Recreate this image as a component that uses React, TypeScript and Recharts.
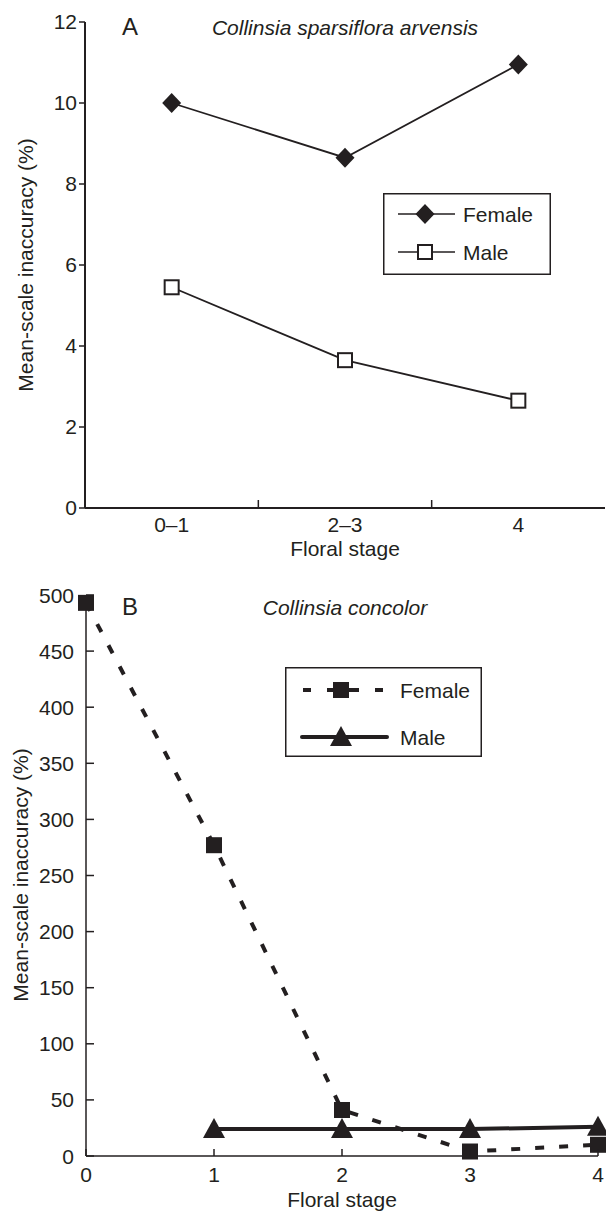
import { Legend, Line, LineChart, XAxis, YAxis } from "recharts"

const ink = "#231f20"
const fs = 21

// panel A - Collinsia sparsiflora arvensis
const stagesA = ["0–1", "2–3", "4"]
const femaleA = [10, 8.65, 10.95]
const maleA = [5.45, 3.65, 2.65]
const yTicksA = [0, 2, 4, 6, 8, 10, 12]

// panel B - Collinsia concolor
const stagesB = [0, 1, 2, 3, 4]
const femaleB = [493, 277, 41, 4, 10]
const maleB = [null, 24, 24, 24, 26]
const yTicksB = [0, 50, 100, 150, 200, 250, 300, 350, 400, 450, 500]

const dataA = stagesA.map((s, i) => ({ x: i + 0.5, stage: s, female: femaleA[i], male: maleA[i] }))
const centersA = stagesA.map((_, i) => i + 0.5)
const bordersA = stagesA.slice(1).map((_, i) => i + 1)
const xTicksA = [...centersA, ...bordersA].sort((a, b) => a - b)

const dataB = stagesB.map((s, i) => ({ x: s, female: femaleB[i], male: maleB[i] }))

const Diamond = (p: any) => {
  const { cx, cy, index } = p
  if (cx == null || cy == null) return <g key={index} />
  return <path key={index} d={`M${cx} ${cy - 10}L${cx + 9.5} ${cy}L${cx} ${cy + 10}L${cx - 9.5} ${cy}Z`} fill={ink} />
}

const OpenSquare = (p: any) => {
  const { cx, cy, index } = p
  if (cx == null || cy == null) return <g key={index} />
  return <rect key={index} x={cx - 7} y={cy - 7} width={14} height={14} fill="#fff" stroke={ink} strokeWidth={2} />
}

const FilledSquare = (p: any) => {
  const { cx, cy, index } = p
  if (cx == null || cy == null) return <g key={index} />
  return <rect key={index} x={cx - 8} y={cy - 8} width={16} height={16} fill={ink} />
}

const Triangle = (p: any) => {
  const { cx, cy, index } = p
  if (cx == null || cy == null) return <g key={index} />
  return <path key={index} d={`M${cx} ${cy - 11}L${cx + 11} ${cy + 9}L${cx - 11} ${cy + 9}Z`} fill={ink} />
}

const TickA = (p: any) => {
  const { x, y, payload } = p
  const v = payload.value
  if (Number.isInteger(v)) {
    return <line x1={x} x2={x} y1={y} y2={y - 8} stroke={ink} strokeWidth={1.5} />
  }
  return (
    <text x={x} y={y + 24} textAnchor="middle" fontSize={fs} fill={ink}>
      {stagesA[Math.floor(v)]}
    </text>
  )
}

const TickBX = (p: any) => {
  const { x, y, payload } = p
  return (
    <g>
      <line x1={x} x2={x} y1={y} y2={y - 7} stroke={ink} strokeWidth={1.5} />
      <text x={x} y={y + 26} textAnchor="middle" fontSize={fs} fill={ink}>
        {payload.value}
      </text>
    </g>
  )
}

const TickBY = (p: any) => {
  const { x, y, payload } = p
  return (
    <g>
      <line x1={x} x2={x + 8} y1={y} y2={y} stroke={ink} strokeWidth={1.5} />
      <text x={x - 12} y={y} dy="0.36em" textAnchor="end" fontSize={fs} fill={ink}>
        {payload.value}
      </text>
    </g>
  )
}

const YLabel = ({ px, py }: any) => (
  <text x={px} y={py} transform={`rotate(-90 ${px} ${py})`} textAnchor="middle" dy="0.36em" fontSize={fs} fill={ink}>
    Mean-scale inaccuracy (%)
  </text>
)

const LegendA = ({ payload }: any) => {
  const items = payload || []
  return (
    <svg width={168} height={82}>
      <rect x={0.75} y={0.75} width={166.5} height={80.5} fill="#fff" stroke={ink} strokeWidth={1.5} />
      {items.map((it: any, i: number) => {
        const y = i === 0 ? 21 : 59
        return (
          <g key={it.value}>
            <line x1={15} x2={72} y1={y} y2={y} stroke={ink} strokeWidth={1.5} />
            {i === 0 ? <Diamond cx={42} cy={y} index={0} /> : <OpenSquare cx={42} cy={y} index={1} />}
            <text x={80} y={y} dy="0.36em" fontSize={fs} fill={ink}>{it.value}</text>
          </g>
        )
      })}
    </svg>
  )
}

const LegendB = ({ payload }: any) => {
  const items = payload || []
  return (
    <svg width={197} height={90}>
      <rect x={0.75} y={0.75} width={195.5} height={88.5} fill="#fff" stroke={ink} strokeWidth={1.5} />
      {items.map((it: any, i: number) => {
        const y = i === 0 ? 23 : 70
        return (
          <g key={it.value}>
            {i === 0 ? (
              <>
                <line x1={18} x2={102} y1={y} y2={y} stroke={ink} strokeWidth={4} strokeDasharray="8 16" />
                <line x1={44} x2={73} y1={y} y2={y} stroke={ink} strokeWidth={4} />
                <FilledSquare cx={56} cy={y} index={0} />
              </>
            ) : (
              <>
                <line x1={17} x2={102} y1={y} y2={y} stroke={ink} strokeWidth={4} strokeLinecap="round" />
                <Triangle cx={56} cy={y} index={1} />
              </>
            )}
            <text x={115} y={y} dy="0.36em" fontSize={fs} fill={ink}>{it.value}</text>
          </g>
        )
      })}
    </svg>
  )
}

const textStyle = { position: "absolute" as const, fontSize: fs, lineHeight: `${fs}px`, color: ink, whiteSpace: "nowrap" as const }

export default function App() {
  return (
    <div
      style={{
        position: "absolute",
        left: 0,
        top: 0,
        width: 606,
        height: 1212,
        background: "#fff",
        fontFamily: "'Liberation Sans', Arial, sans-serif",
      }}
    >
      <div style={{ position: "absolute", left: 0, top: 0 }}>
        <LineChart width={606} height={580} data={dataA} margin={{ top: 22, right: 1, bottom: 0, left: 0 }}>
          <XAxis
            dataKey="x"
            type="number"
            domain={[0, 3]}
            ticks={xTicksA}
            interval={0}
            height={72}
            tickSize={0}
            tickMargin={0}
            tickLine={false}
            tick={<TickA />}
            axisLine={{ stroke: ink, strokeWidth: 2 }}
            label={{ value: "Floral stage", position: "insideBottom", offset: 24, fill: ink, fontSize: fs }}
          />
          <YAxis
            type="number"
            domain={[0, 12]}
            ticks={yTicksA}
            interval={0}
            width={85}
            tickSize={6}
            tick={{ fill: ink, fontSize: fs }}
            tickLine={{ stroke: ink, strokeWidth: 1.5 }}
            axisLine={{ stroke: ink, strokeWidth: 2 }}
            label={<YLabel px={25} py={265} />}
          />
          <Legend
            layout="vertical"
            align="center"
            verticalAlign="middle"
            content={<LegendA />}
            wrapperStyle={{ position: "absolute", left: 383, top: 193, width: 168, height: 82 }}
          />
          <Line type="linear" dataKey="female" name="Female" stroke={ink} strokeWidth={1.8} dot={Diamond} isAnimationActive={false} />
          <Line type="linear" dataKey="male" name="Male" stroke={ink} strokeWidth={1.8} dot={OpenSquare} isAnimationActive={false} />
        </LineChart>
        <div style={{ ...textStyle, left: 122, top: 15, fontSize: 24, lineHeight: "24px" }}>A</div>
        <div style={{ ...textStyle, left: 345, top: 17, transform: "translateX(-50%)", fontStyle: "italic" }}>
          Collinsia sparsiflora arvensis
        </div>
      </div>

      <div style={{ position: "absolute", left: 0, top: 580 }}>
        <LineChart width={606} height={632} data={dataB} margin={{ top: 15, right: 8, bottom: 0, left: 0 }}>
          <XAxis
            dataKey="x"
            type="number"
            domain={[0, 4]}
            ticks={stagesB}
            interval={0}
            height={56}
            tickSize={0}
            tickMargin={0}
            tickLine={false}
            tick={<TickBX />}
            axisLine={{ stroke: ink, strokeWidth: 1.5 }}
            label={{ value: "Floral stage", position: "insideBottom", offset: 5, fill: ink, fontSize: fs }}
          />
          <YAxis
            type="number"
            domain={[0, 500]}
            ticks={yTicksB}
            interval={0}
            width={86}
            tickSize={0}
            tickMargin={0}
            tickLine={false}
            tick={<TickBY />}
            axisLine={{ stroke: ink, strokeWidth: 1.5 }}
            label={<YLabel px={20} py={295} />}
          />
          <Legend
            layout="vertical"
            align="center"
            verticalAlign="middle"
            content={<LegendB />}
            wrapperStyle={{ position: "absolute", left: 285, top: 87, width: 197, height: 90 }}
          />
          <Line
            type="linear"
            dataKey="female"
            name="Female"
            stroke={ink}
            strokeWidth={4}
            strokeDasharray="9 15"
            dot={FilledSquare}
            isAnimationActive={false}
          />
          <Line type="linear" dataKey="male" name="Male" stroke={ink} strokeWidth={4} dot={Triangle} isAnimationActive={false} />
        </LineChart>
        <div style={{ ...textStyle, left: 122, top: 15, fontSize: 24, lineHeight: "24px" }}>B</div>
        <div style={{ ...textStyle, left: 345, top: 17, transform: "translateX(-50%)", fontStyle: "italic" }}>
          Collinsia concolor
        </div>
      </div>
    </div>
  )
}
